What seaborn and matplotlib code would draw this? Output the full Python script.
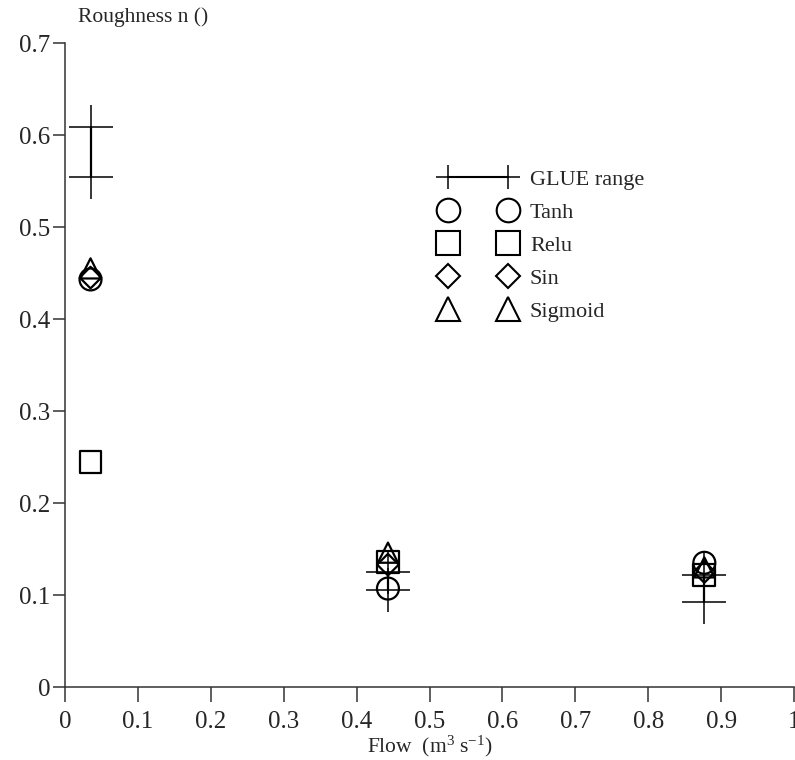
import matplotlib
matplotlib.use("Agg")
import matplotlib.pyplot as plt
from matplotlib.lines import Line2D
import seaborn as sns
import pandas as pd

# ---- data ----
flow = [0.035, 0.443, 0.877]
glue_low = [0.554, 0.105, 0.092]
glue_high = [0.609, 0.125, 0.122]
tanh = [0.443, 0.107, 0.135]
relu = [0.245, 0.136, 0.122]
sin = [0.445, 0.133, 0.125]
sigmoid = [0.455, 0.146, 0.130]
series_names = ["Tanh", "Relu", "Sin", "Sigmoid"]
x_ticks = [0, 0.1, 0.2, 0.3, 0.4, 0.5, 0.6, 0.7, 0.8, 0.9, 1]
x_tick_labels = ["0", "0.1", "0.2", "0.3", "0.4", "0.5", "0.6", "0.7", "0.8", "0.9", "1"]
y_ticks = [0, 0.1, 0.2, 0.3, 0.4, 0.5, 0.6, 0.7]
y_tick_labels = ["0", "0.1", "0.2", "0.3", "0.4", "0.5", "0.6", "0.7"]

sns.set_style("white")
plt.rcParams["font.family"] = ["Liberation Serif", "DejaVu Serif"]
plt.rcParams["mathtext.fontset"] = "custom"
plt.rcParams["mathtext.rm"] = "Liberation Serif"
plt.rcParams["mathtext.it"] = "Liberation Serif:italic"

fig = plt.figure(figsize=(7.95, 7.6), dpi=100)
ax = fig.add_axes([65 / 795, 73 / 760, 729 / 795, 644 / 760])

styles = {
    "Tanh": dict(marker="o", s=15.8 ** 2),
    "Relu": dict(marker="s", s=15.8 ** 2),
    "Sin": dict(marker="D", s=11.0 ** 2),
    "Sigmoid": dict(marker="^", s=14.5 ** 2),
}
values = {"Tanh": tanh, "Relu": relu, "Sin": sin, "Sigmoid": sigmoid}

# GLUE range: vertical segment plus '+' end markers
ax.vlines(flow, glue_low, glue_high, color="black", lw=1.6, zorder=2)
glue_df = pd.DataFrame({"flow": flow + flow, "n": glue_low + glue_high})
sns.scatterplot(data=glue_df, x="flow", y="n", marker="+", s=31 ** 2,
                color="black", linewidth=1.1, ax=ax, legend=False, zorder=2)

for name in series_names:
    df = pd.DataFrame({"flow": flow, "n": values[name]})
    sns.scatterplot(data=df, x="flow", y="n", marker=styles[name]["marker"],
                    s=styles[name]["s"], facecolor="none", edgecolor="black",
                    linewidth=1.6, ax=ax, legend=False, zorder=3)

ax.set_xlim(0, 1)
ax.set_ylim(0, 0.7)
ax.set_xticks(x_ticks)
ax.set_xticklabels(x_tick_labels)
ax.set_yticks(y_ticks)
ax.set_yticklabels(y_tick_labels)
ax.set_xlabel("")
ax.set_ylabel("")
for side in ["top", "right"]:
    ax.spines[side].set_visible(False)
for side in ["left", "bottom"]:
    ax.spines[side].set_linewidth(1.1)
    ax.spines[side].set_color("#333333")
    ax.spines[side].set_clip_on(False)
ax.tick_params(axis="both", direction="out", width=1.1, color="#333333",
               labelsize=18, bottom=True, left=True)
ax.tick_params(axis="y", length=9, pad=1.5)
ax.tick_params(axis="x", length=11, pad=6.5)

fig.text(78 / 795, 1 - 17 / 760, "Roughness n ()", fontsize=15.5, ha="left", va="center")
fig.text(430 / 795, 1 - 746 / 760, r"Flow  (m$^{3}$ s$^{-1}$)", fontsize=15.5,
         ha="center", va="center")

handles = [Line2D([], [], color="black", lw=1.5, marker="+", ms=17, mew=1.1)]
leg_styles = {"Tanh": ("o", 17), "Relu": ("s", 17), "Sin": ("D", 12), "Sigmoid": ("^", 17)}
for name in series_names:
    m, ms = leg_styles[name]
    handles.append(Line2D([], [], ls="none", marker=m, ms=ms, mfc="none",
                          mec="black", mew=1.5))
fig.legend(handles, ["GLUE range"] + series_names, loc="upper left",
           bbox_to_anchor=(441 / 795, 1 - 169 / 760), frameon=False,
           numpoints=2, fontsize=16, handlelength=3.3, handletextpad=0.7,
           borderpad=0, borderaxespad=0, labelspacing=0.56)

fig.savefig("out.png", dpi=100)
